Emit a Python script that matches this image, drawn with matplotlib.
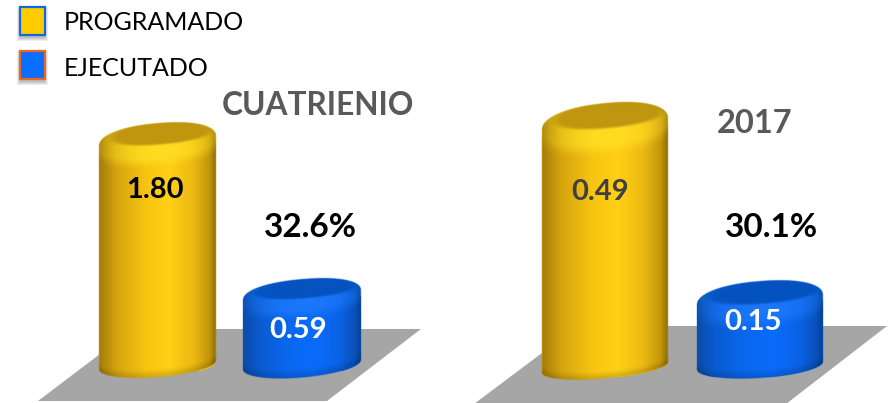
import numpy as np
import matplotlib
matplotlib.use("Agg")
import matplotlib.pyplot as plt
from matplotlib.patches import Polygon, Rectangle

W, H = 889, 403

series_names = ["PROGRAMADO", "EJECUTADO"]
panel_titles = ["CUATRIENIO", "2017"]
values_cuatrienio = [1.80, 0.59]
values_2017 = [0.49, 0.15]
percent_labels = ["32.6%", "30.1%"]

YELLOW = dict(side=[(-1, "#A27C08"), (-0.7, "#D4A40E"), (-0.2, "#F8C412"), (0.2, "#FFD015"),
                    (0.6, "#EDBA12"), (0.88, "#C4970C"), (1, "#8F6E08")],
              top="#BF970F", rim="#FFDC22")
BLUE = dict(side=[(-1, "#0A4CA8"), (-0.7, "#0A5CD2"), (-0.2, "#0A68F0"), (0.2, "#0A6CFC"),
                  (0.65, "#0A62E4"), (0.9, "#0A50B8"), (1, "#073F94")],
            top="#0552C0", rim="#1C78FA")

# pixel layout of each panel: axes span, scale, and the look of both cylinders
panels = [
    dict(span=(0, 445), zero=371.0, k=127.3, values=values_cuatrienio,
         cx=[157.5, 302.0], a=[58.5, 59.0],
         top_b=[18, 16], top_s=[5, 5],
         bot_y=[366, 365], bot_b=[12, 13], bot_s=[4.5, 5]),
    dict(span=(445, 889), zero=377.4, k=516.0, values=values_2017,
         cx=[605.0, 760.0], a=[63.0, 63.0],
         top_b=[21, 19], top_s=[6, 5],
         bot_y=[367.5, 365.5], bot_b=[11, 12.5], bot_s=[5.5, 4]),
]

TOP_P = 2.2
BOT_P = 2.0


def rgb(c):
    return np.array(matplotlib.colors.to_rgb(c))


def ramp(u, stops):
    pos = [s[0] for s in stops]
    cols = np.array([rgb(s[1]) for s in stops])
    return np.dstack([np.interp(u, pos, cols[:, i]) for i in range(3)])


def smooth(t):
    t = np.clip(t, 0, 1)
    return t * t * (3 - 2 * t)


def arc_of(u, p):
    return (1 - np.abs(u) ** p) ** (1 / p)


def draw_cylinder(ax, bar, p, i, style):
    # everything is worked out in pixels, the top comes from the bar height
    to_y = lambda py: (p["zero"] - py) / p["k"]
    sp = p["cx"][1] - p["cx"][0]
    to_x = lambda px: (px - p["cx"][0]) / sp

    cx, a = p["cx"][i], p["a"][i]
    top_y = p["zero"] - bar.get_height() * p["k"]
    tb, ts = p["top_b"][i], p["top_s"][i]
    by, bb, bs = p["bot_y"][i], p["bot_b"][i], p["bot_s"][i]

    # outline, used to clip the plain bar
    t = np.linspace(-1, 1, 120)
    upper = [(to_x(cx + a * q), to_y(top_y - ts * q - tb * arc_of(q, TOP_P))) for q in t]
    lower = [(to_x(cx + a * q), to_y(by - bs * q + bb * arc_of(q, BOT_P))) for q in t[::-1]]
    outline = Polygon(upper + lower, closed=True, transform=ax.transData, fill=False, edgecolor="none")
    ax.add_patch(outline)
    bar.set_clip_path(outline)

    x0, x1 = cx - a - 2, cx + a + 2
    y0, y1 = top_y - tb - ts - 2, by + bb + bs + 2
    xs = np.arange(x0, x1, 0.5) + 0.25
    ys = np.arange(y0, y1, 0.5) + 0.25
    X, Y = np.meshgrid(xs, ys)
    u = (X - cx) / a
    uc = np.clip(u, -1, 1)
    arc = arc_of(uc, TOP_P)
    barc = arc_of(uc, BOT_P)
    vt = (Y - (top_y - ts * uc)) / tb
    vb = (Y - (by - bs * uc)) / bb

    img = ramp(uc, style["side"])

    # light band round the front of the rim, strongest in the middle
    band = smooth(1 - np.maximum(vt - 0.8 * arc, 0) / 0.8) * (1 - 0.8 * np.abs(uc - 0.05) ** 1.4)
    rim = rgb(style["rim"])[None, None, :]
    img = img * (1 - band[..., None]) + rim * band[..., None]

    # flat top face, a bit smaller than the rim and pushed to the back
    inner = ((np.abs(uc - 0.07) / 0.88) ** 2.2 + (np.abs(vt + 0.42) / 0.62) ** 2.2) ** (1 / 2.2)
    face = smooth((1.15 - inner) / 0.3)
    top = rgb(style["top"])[None, None, :]
    img = img * (1 - face[..., None]) + top * face[..., None]

    # darker foot
    foot = smooth(1 - (barc - vb) / 0.8)[..., None] * 0.15
    img = img * (1 - foot)

    d = np.minimum.reduce([X - (cx - a), (cx + a) - X,
                           (vt + arc) * tb, (barc - vb) * bb])
    alpha = np.clip(d * 1.2 + 0.5, 0, 1)
    ax.imshow(np.dstack([img, alpha]), extent=(to_x(x0), to_x(x1), to_y(y1), to_y(y0)),
              aspect="auto", origin="upper", interpolation="bilinear", zorder=3)


plt.rcParams["font.family"] = ["Lato", "DejaVu Sans"]
fig = plt.figure(figsize=(W / 100, H / 100), dpi=100, facecolor="white")


def label(px, py, s, size, color, weight="bold", ha="center"):
    fig.text(px / W, 1 - py / H, s, fontsize=size, color=color, fontweight=weight,
             ha=ha, va="center_baseline", zorder=5)


# floor and legend swatches live on a plain pixel axes
bg = fig.add_axes([0, 0, 1, 1], zorder=0)
bg.set_xlim(0, W)
bg.set_ylim(H, 0)
bg.axis("off")
bg.add_patch(Polygon([(38, 401), (327, 401), (421, 329), (133, 329)], color="#A6A6A6", lw=0))
bg.add_patch(Polygon([(474, 404), (786, 404), (887, 326), (578, 326)], color="#A6A6A6", lw=0))

for (x, y, fc, ec) in [(20, 7, "#FFCC00", "#0F6AE0"), (20, 51, "#0A6EFF", "#E8691E")]:
    for grow in [3, 2, 1, 0]:
        bg.add_patch(Rectangle((x - grow, y + 3 - grow), 25 + 2 * grow, 28 + 2 * grow,
                               color="#000000", alpha=0.07, lw=0))
    bg.add_patch(Rectangle((x, y), 25, 28, facecolor=fc, edgecolor=ec, lw=1.6))

for p in panels:
    left, right = p["span"]
    ax = fig.add_axes([left / W, 0, (right - left) / W, 1], zorder=1)
    ax.patch.set_alpha(0)
    sp = p["cx"][1] - p["cx"][0]
    bars = ax.bar([0, 1], p["values"], width=[2 * a / sp for a in p["a"]],
                  color=[YELLOW["side"][3][1], BLUE["side"][3][1]], zorder=2)
    for i, (bar, style) in enumerate(zip(bars, [YELLOW, BLUE])):
        draw_cylinder(ax, bar, p, i, style)
    ax.set_xlim((left - p["cx"][0]) / sp, (right - p["cx"][0]) / sp)
    ax.set_ylim((p["zero"] - H) / p["k"], p["zero"] / p["k"])
    ax.axis("off")

label(64, 20, series_names[0], 18, "#000000", weight="normal", ha="left")
label(64, 66, series_names[1], 18, "#000000", weight="normal", ha="left")

label(318, 103, panel_titles[0], 22.8, "#595959")
label(755, 121, panel_titles[1], 23.5, "#595959")
label(310, 225, percent_labels[0], 24, "#000000")
label(771, 225, percent_labels[1], 24, "#000000")

label(155, 187, f"{values_cuatrienio[0]:.2f}", 21, "#000000")
label(298, 328, f"{values_cuatrienio[1]:.2f}", 21, "#FFFFFF")
label(600, 190, f"{values_2017[0]:.2f}", 21, "#404040")
label(753, 320, f"{values_2017[1]:.2f}", 21, "#FFFFFF")

fig.savefig("out.png", dpi=100)
